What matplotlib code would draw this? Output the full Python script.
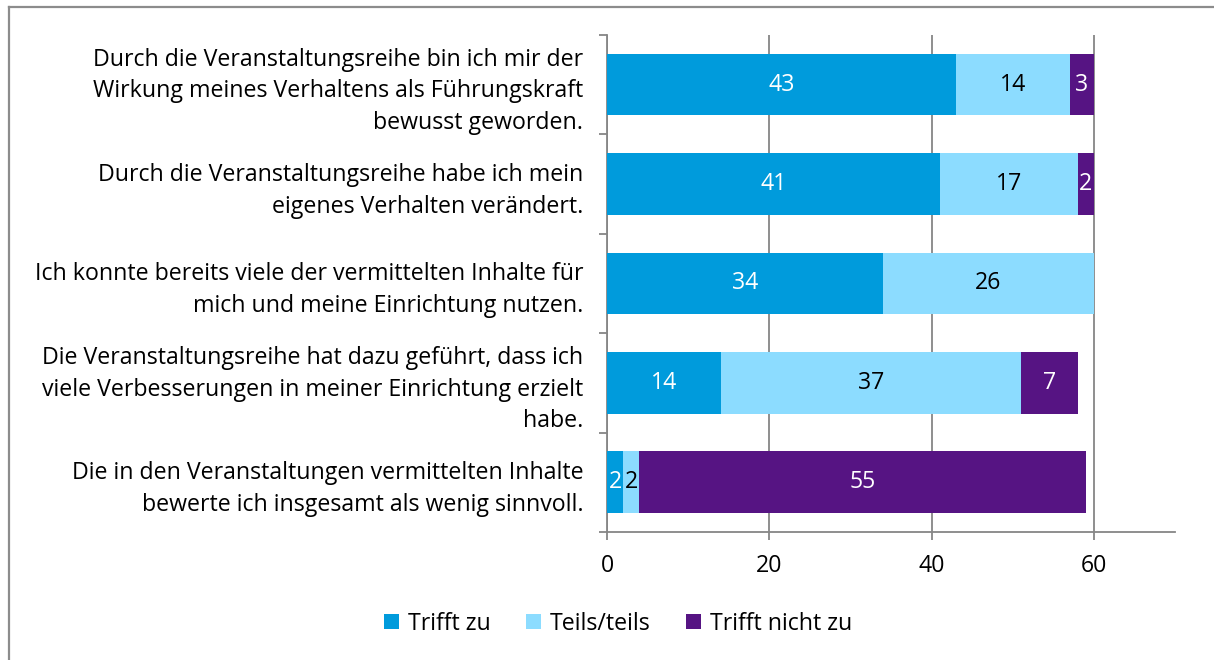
import numpy as np
import matplotlib
matplotlib.use("Agg")
import matplotlib.pyplot as plt
from matplotlib.lines import Line2D
from matplotlib.patches import Patch

plt.rcParams['font.family'] = ['Open Sans', 'DejaVu Sans']

statements = [
    "Durch die Veranstaltungsreihe bin ich mir der\nWirkung meines Verhaltens als Führungskraft\nbewusst geworden.",
    "Durch die Veranstaltungsreihe habe ich mein\neigenes Verhalten verändert.",
    "Ich konnte bereits viele der vermittelten Inhalte für\nmich und meine Einrichtung nutzen.",
    "Die Veranstaltungsreihe hat dazu geführt, dass ich\nviele Verbesserungen in meiner Einrichtung erzielt\nhabe.",
    "Die in den Veranstaltungen vermittelten Inhalte\nbewerte ich insgesamt als wenig sinnvoll.",
]
series_names = ["Trifft zu", "Teils/teils", "Trifft nicht zu"]
trifft_zu = [43, 41, 34, 14, 2]
teils = [14, 17, 26, 37, 2]
trifft_nicht = [3, 2, 0, 7, 55]
x_ticks = [0, 20, 40, 60]

colors = ["#009bdc", "#8cdcff", "#561483"]
label_colors = ["white", "black", "white"]
FS = 16.7

fig = plt.figure(figsize=(12.14, 6.6), dpi=100)
ax = fig.add_axes([0.5, 0.194, 0.4679, 0.753])

y = np.arange(len(statements))
left = np.zeros(len(statements))
for vals, name, col, lc in zip([trifft_zu, teils, trifft_nicht], series_names, colors, label_colors):
    vals = np.array(vals, dtype=float)
    bars = ax.barh(y, vals, left=left, height=0.62, color=col, label=name, zorder=3)
    for b, v in zip(bars, vals):
        if v > 0:
            ax.text(b.get_x() + b.get_width() / 2, b.get_y() + b.get_height() / 2,
                    f"{int(v)}", ha="center", va="center", color=lc, fontsize=FS, zorder=4)
    left += vals

ax.set_xlim(0, 70)
ax.set_ylim(len(statements) - 0.5, -0.5)
ax.set_xticks(x_ticks)
ax.set_xticklabels([str(t) for t in x_ticks], fontsize=FS)
ax.set_yticks(y)
ax.set_yticklabels(statements, fontsize=FS, multialignment="right", linespacing=1.42)
ax.set_yticks(np.arange(-0.5, len(statements)), minor=True)
ax.tick_params(axis="y", which="major", length=0, pad=17)
ax.tick_params(axis="y", which="minor", length=6, color="#868686", width=1.3)
ax.tick_params(axis="x", length=6, color="#868686", width=1.3, pad=10)

for s in ["top", "right"]:
    ax.spines[s].set_visible(False)
for s in ["left", "bottom"]:
    ax.spines[s].set_color("#868686")
    ax.spines[s].set_linewidth(1.3)
ax.xaxis.grid(True, color="#868686", linewidth=1.3, zorder=0)

handles = [Patch(facecolor=c, label=n) for c, n in zip(colors, series_names)]
fig.legend(handles=handles, loc="center", bbox_to_anchor=(0.509, 0.055), ncol=3, frameon=False,
           fontsize=FS, handlelength=0.65, handleheight=0.65, handletextpad=0.4, columnspacing=1.5)

# outer frame (cut off at the right and bottom)
fig.add_artist(Line2D([0.0072, 0.0072], [0, 0.99], transform=fig.transFigure, color="#8c8c8c", linewidth=1.6))
fig.add_artist(Line2D([0.0072, 1.0], [0.99, 0.99], transform=fig.transFigure, color="#8c8c8c", linewidth=1.6))

fig.savefig("out.png", dpi=100)
